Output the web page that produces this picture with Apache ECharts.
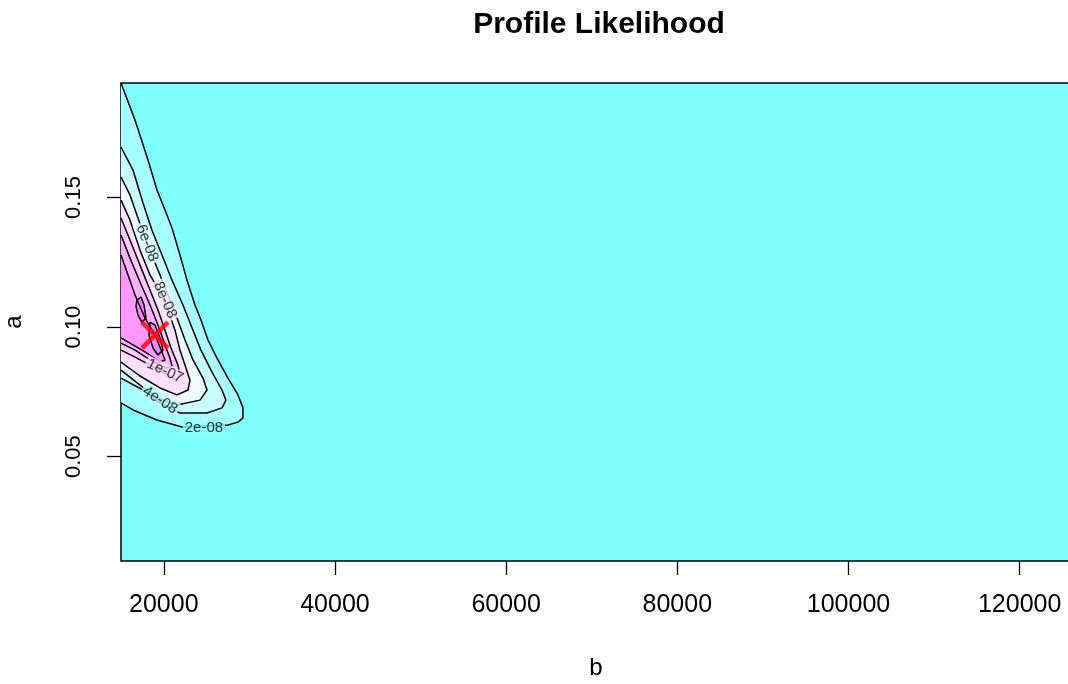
<!DOCTYPE html>
<html>
<head>
<meta charset="utf-8">
<script src="https://cdn.jsdelivr.net/npm/echarts@6/dist/echarts.min.js"></script>
<style>
  html, body { margin: 0; padding: 0; background: #fff; }
  #chart { width: 1068px; height: 684px; }
</style>
</head>
<body>
<div id="chart"></div>
<script>
// axis ticks
const xTicks = [20000, 40000, 60000, 80000, 100000, 120000];
const yTicks = [0.05, 0.10, 0.15];

// contour lines, [b, a]
// open contours start and end on the left border (b = 15000)
const contour2e8 = [[15000,0.1942],[16635,0.1799],[18154,0.1645],[19205,0.1529],[20139,0.1452],[20957,0.1382],
  [21891,0.1278],[22709,0.1181],[23643,0.1085],[24344,0.1027],[25162,0.0950],[26213,0.0880],[27498,0.0803],
  [28666,0.0738],[29250,0.0688],[29250,0.0649],[28666,0.0633],[27498,0.0622],[22125,0.0614],[19205,0.0641],
  [16402,0.0680],[15000,0.0707]];
const contour4e8 = [[15000,0.1695],[16400,0.1606],[17570,0.1479],[18620,0.1374],[19790,0.1278],[20960,0.1181],
  [22240,0.1085],[23410,0.0988],[24340,0.0911],[25630,0.0826],[26800,0.0757],[27260,0.0718],[26800,0.0688],
  [25050,0.0668],[21890,0.0668],[19560,0.0707],[17570,0.0757],[15000,0.0803]];
const contour6e8 = [[15000,0.1579],[16050,0.1510],[16870,0.1432],[18040,0.1324],[19320,0.1220],[20490,0.1124],
  [21540,0.1035],[22480,0.0950],[23410,0.0873],[24580,0.0803],[25050,0.0757],[24230,0.0718],[21540,0.0699],
  [19320,0.0726],[17220,0.0776],[15000,0.0834]];
const contour8e8 = [[15000,0.1490],[16050,0.1413],[17220,0.1297],[18390,0.1201],[19560,0.1135],[20490,0.1066],
  [21310,0.0988],[21890,0.0911],[22590,0.0842],[23060,0.0795],[22830,0.0757],[21540,0.0738],[19560,0.0765],
  [17220,0.0811],[15000,0.0865]];
const contour1e7 = [[15000,0.1421],[16050,0.1336],[17220,0.1239],[18390,0.1143],[19320,0.1066],[20140,0.0988],
  [20840,0.0919],[21660,0.0853],[21890,0.0815],[21420,0.0795],[20490,0.0815],[18390,0.0853],[16640,0.0884],
  [15000,0.0911]];
const contour12e8 = [[15000,0.1355],[16050,0.1266],[17220,0.1174],[18390,0.1085],[19320,0.1008],[20020,0.0942],
  [20720,0.0880],[20960,0.0849],[20260,0.0842],[18390,0.0873],[16640,0.0911],[15000,0.0938]];
const contour14e8 = [[15000,0.1278],[15820,0.1201],[16640,0.1124],[17800,0.1035],[18970,0.0969],[19790,0.0904],
  [20140,0.0873],[19560,0.0865],[17800,0.0904],[16050,0.0938],[15000,0.0958]];
const contour16e8a = [[16870,0.1104],[17340,0.1116],[17690,0.1085],[17920,0.1035],[17450,0.1019],[16990,0.1046],
  [16750,0.1081],[16870,0.1104]];
const contour16e8b = [[18390,0.1019],[18970,0.1008],[19560,0.0958],[19910,0.0911],[19320,0.0892],[18740,0.0919],
  [18270,0.0969],[18390,0.1019]];

const contours = [contour2e8, contour4e8, contour6e8, contour8e8, contour1e7, contour12e8, contour14e8, contour16e8a, contour16e8b];

// contour labels: text and position
const labelNames = ['6e-08', '8e-08', '1e-07', '4e-08', '2e-08'];
const labelPoints = [[18040,0.1324],[20140,0.1104],[20140,0.0830],[19560,0.0718],[24690,0.0610]];

// maximum likelihood estimate
const mle = [18970, 0.0969];

const fillColors = ['#A8FFFF', '#C8FFFF', '#EEFAFF', '#FFE0FF', '#FFC8FF', '#FFB0FF', '#FF98FF', '#FF82FF', '#FF82FF'];
const labelStyle = {
  '6e-08': { rotate: -69, bg: '#DCFFFF' },
  '8e-08': { rotate: -66, bg: '#F6F0FF' },
  '1e-07': { rotate: -25, bg: '#FFE0FF' },
  '4e-08': { rotate: -33, bg: '#B8FFFF' },
  '2e-08': { rotate: 0, bg: '#94FFFF' }
};

const font = 'Liberation Sans, Arial, sans-serif';
const chart = echarts.init(document.getElementById('chart'));

const lineSeries = contours.map(c => ({
  type: 'line',
  data: c,
  showSymbol: false,
  symbol: 'none',
  silent: true,
  z: 3,
  clip: true,
  lineStyle: { color: '#000', width: 1.5 }
}));

chart.setOption({
  animation: false,
  title: {
    text: 'Profile Likelihood',
    left: 594,
    top: 5,
    textAlign: 'center',
    textStyle: { fontFamily: font, fontSize: 30, fontWeight: 'bold', color: '#000' }
  },
  grid: {
    left: 121, top: 83, width: 950, height: 478,
    outerBoundsMode: 'none', containLabel: false,
    show: true, backgroundColor: '#80FFFF', borderColor: '#000', borderWidth: 1.5
  },
  xAxis: {
    type: 'value', min: 15000, max: 126000,
    name: 'b', nameLocation: 'middle', nameGap: 95,
    nameTextStyle: { fontFamily: font, fontSize: 24, color: '#000' },
    axisLine: { show: false },
    axisTick: { show: true, length: 14, customValues: xTicks, lineStyle: { color: '#000', width: 1.3 } },
    axisLabel: {
      customValues: xTicks, margin: 32, fontFamily: font, fontSize: 25, color: '#000',
      formatter: v => String(v)
    },
    splitLine: { show: false }
  },
  yAxis: {
    type: 'value', min: 0.0097, max: 0.1942,
    name: 'a', nameLocation: 'middle', nameGap: 95,
    nameTextStyle: { fontFamily: font, fontSize: 24, color: '#000' },
    axisLine: { show: false },
    axisTick: { show: true, length: 14, customValues: yTicks, lineStyle: { color: '#000', width: 1.3 } },
    axisLabel: {
      customValues: yTicks, margin: 36, rotate: 90, fontFamily: font, fontSize: 22, color: '#000',
      formatter: v => v.toFixed(2)
    },
    splitLine: { show: false }
  },
  series: [
    {
      type: 'custom',
      data: contours.map(c => c[0]),
      clip: true,
      silent: true,
      z: 2,
      renderItem: (params, api) => {
        const pts = contours[params.dataIndex].map(p => api.coord(p));
        return { type: 'polygon', shape: { points: pts }, style: { fill: fillColors[params.dataIndex] } };
      }
    },
    ...lineSeries,
    {
      type: 'scatter',
      symbolSize: 1,
      silent: true,
      z: 4,
      itemStyle: { color: 'rgba(0,0,0,0)' },
      data: labelNames.map((n, i) => ({
        name: n,
        value: labelPoints[i],
        label: {
          show: true, position: 'inside', formatter: n, rotate: labelStyle[n].rotate,
          backgroundColor: labelStyle[n].bg, padding: [0, 2],
          fontFamily: font, fontSize: 15, color: '#000'
        }
      }))
    },
    {
      type: 'scatter',
      data: [mle],
      symbol: 'path://M0 0L20 20M20 0L0 20',
      symbolSize: 26,
      silent: true,
      z: 5,
      itemStyle: { color: 'none', borderColor: '#FF0000', borderWidth: 4.5 }
    }
  ]
});
</script>
</body>
</html>
